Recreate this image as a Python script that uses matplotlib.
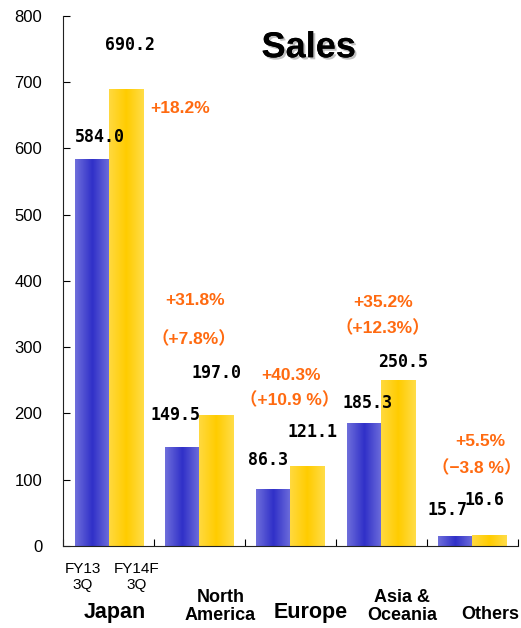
import matplotlib
matplotlib.use("Agg")
import matplotlib.pyplot as plt
import matplotlib.patheffects as pe
from matplotlib.colors import LinearSegmentedColormap
import numpy as np

categories = ["Japan", "North\nAmerica", "Europe", "Asia &\nOceania", "Others"]
fy13 = [584.0, 149.5, 86.3, 185.3, 15.7]
fy14 = [690.2, 197.0, 121.1, 250.5, 16.6]
growth = ["+18.2%", "+31.8%", "+40.3%", "+35.2%", "+5.5%"]
growth_local = [None, "（+7.8%）", "（+10.9 %）", "（+12.3%）", "（−3.8 %）"]
series_labels = ["FY13\n3Q", "FY14F\n3Q"]
yticks = [0, 100, 200, 300, 400, 500, 600, 700, 800]

# label placement (data coords) - layout only
v13_pos = [(-0.09, 617), (0.74, 198), (1.75, 130), (2.85, 216), (3.73, 54)]
v14_pos = [(0.24, 756), (1.19, 261), (2.24, 172), (3.24, 278), (4.13, 69)]
g_pos = [(0.79, 661), (0.956, 371), (2.01, 258), (3.02, 367), (4.09, 157)]
gl_pos = [None, (0.934, 312), (1.99, 220), (3.02, 329), (4.05, 118)]
cat_pos = [(0.066, -100), (1.23, -91), (2.22, -100), (3.23, -91), (4.2, -104)]
cat_size = [15.5, 13, 15.5, 13, 13]

fig = plt.figure(figsize=(5.21, 6.28), dpi=100)
ax = fig.add_axes([0.121, 0.1306, 0.873, 0.844])

x = np.arange(len(categories))
w = 0.374
blue_cmap = LinearSegmentedColormap.from_list("b", ["#6e6edb", "#3030c8", "#6e6edb"])
yel_cmap = LinearSegmentedColormap.from_list("y", ["#ffd93f", "#ffcc00", "#ffdd48"])

b1 = ax.bar(x - w / 2, fy13, w, color="none", edgecolor="none")
b2 = ax.bar(x + w / 2, fy14, w, color="none", edgecolor="none")
grad = np.linspace(0, 1, 64).reshape(1, -1)
for bars, cmap in ((b1, blue_cmap), (b2, yel_cmap)):
    for p in bars:
        x0, y0 = p.get_x(), p.get_y()
        im = ax.imshow(grad, cmap=cmap, aspect="auto",
                       extent=(x0, x0 + p.get_width(), y0, y0 + p.get_height()),
                       zorder=2)
        im.set_clip_path(p)

ax.set_xlim(-0.5, len(categories) - 0.5)
ax.set_ylim(0, 800)
ax.set_yticks(yticks)
ax.set_xticks(np.arange(len(categories) + 1) - 0.5)
ax.set_xticklabels([])
ax.tick_params(axis="y", direction="in", length=5, pad=15, labelsize=12,
               labelfontfamily="Liberation Sans")
ax.tick_params(axis="x", direction="in", length=5)
for s in ("top", "right"):
    ax.spines[s].set_visible(False)
ax.spines["left"].set_color("#222222")
ax.spines["bottom"].set_color("#222222")

for v, (px, py) in zip(fy13, v13_pos):
    ax.text(px, py, f"{v:.1f}", ha="center", va="center", fontsize=12,
            fontweight="bold", family="DejaVu Sans Mono", color="black")
for v, (px, py) in zip(fy14, v14_pos):
    ax.text(px, py, f"{v:.1f}", ha="center", va="center", fontsize=12,
            fontweight="bold", family="DejaVu Sans Mono", color="black")
gfam = ["Liberation Sans", "Noto Sans CJK JP"]
for g, (px, py) in zip(growth, g_pos):
    ax.text(px, py, g, ha="center", va="center", fontsize=12.5, fontweight="bold",
            family=gfam, color="#ff6a10")
for g, pos in zip(growth_local, gl_pos):
    if g is None:
        continue
    ax.text(pos[0], pos[1], g, ha="center", va="center", fontsize=12.5,
            fontweight="bold", family=gfam, color="#ff6a10")

ax.text(-0.286, -47, series_labels[0], ha="center", va="center", fontsize=11,
        family="Liberation Sans", clip_on=False, linespacing=1.2)
ax.text(0.308, -47, series_labels[1], ha="center", va="center", fontsize=11,
        family="Liberation Sans", clip_on=False, linespacing=1.2)

for c, (px, py), fs in zip(categories, cat_pos, cat_size):
    ax.text(px, py, c, ha="center", va="center", fontsize=fs, fontweight="bold",
            family="Liberation Sans", clip_on=False, linespacing=1.05)

ax.text(2.2, 752, "Sales", ha="center", va="center", fontsize=26, fontweight="bold",
        family="Liberation Sans",
        path_effects=[pe.withSimplePatchShadow(offset=(1.5, -1.5), shadow_rgbFace="#999999", alpha=0.6),
                      pe.Normal()])

fig.savefig("out.png", dpi=100)
